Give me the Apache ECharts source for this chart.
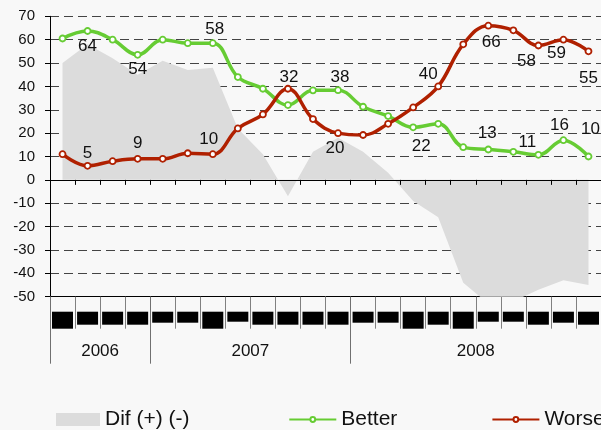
<!DOCTYPE html>
<html>
<head>
<meta charset="utf-8">
<script src="https://cdn.jsdelivr.net/npm/echarts@6/dist/echarts.min.js"></script>
<style>
html,body{margin:0;padding:0;background:#f8f8f8;}
#c{width:601px;height:430px;}
</style>
</head>
<body>
<div id="c"></div>
<script>
// ---------- data ----------
const categories = ['2006 P1','2006 P2','2006 P3','2006 P4',
  '2007 P1','2007 P2','2007 P3','2007 P4','2007 P5','2007 P6','2007 P7','2007 P8',
  '2008 P1','2008 P2','2008 P3','2008 P4','2008 P5','2008 P6','2008 P7','2008 P8','2008 P9','2008 P10'];
const years = ['2006','2007','2008'];
const yearCounts = [4, 8, 10];
const better = [60.5, 63.7, 60, 53.5, 60, 58.5, 58.5, 44, 39, 32, 38.3, 38.4, 31.3, 27.3, 22.5, 24, 14, 13, 12, 10.7, 17, 10];
const worse  = [11, 6, 8, 9, 9, 11.4, 11, 22, 28, 39, 26, 20, 19.2, 24, 31, 40, 58, 66, 64, 57.5, 60, 55];
const dif    = [50, 58, 52, 45, 51, 47, 48, 22, 11, -7, 12, 18, 12, 3, -9, -16, -44, -53, -52, -47, -43, -45];
const betterLabels = ['', '64', '', '54', '', '', '58', '', '', '32', '', '38', '', '', '22', '', '', '13', '', '11', '16', '10'];
const worseLabels  = ['', '5', '', '9', '', '', '10', '', '', '', '', '20', '', '', '', '40', '', '66', '', '58', '59', '55'];
const blockDepth = [17, 13, 13, 13, 11, 11, 17, 10, 13, 13, 13, 13, 11, 11, 17, 13, 17, 10, 10, 13, 11, 13];
const yTicks = {min: -50, max: 70, step: 10};

// ---------- styles / layout ----------
const GREEN = '#66CC33', RED = '#B02000', GRAY = '#dcdcdc';
const FONT = 'Liberation Sans, Arial, sans-serif';
const betterOffsets = {1:[0,15],3:[0,14],6:[2,-14],9:[1,-28],11:[2,-13],14:[8,19],17:[-1,-16],19:[-11,-13],20:[-4,-15],21:[2,-27]};
const worseOffsets  = {1:[0,-13],3:[0,-16],6:[-4,-15],11:[-3,15],15:[-10,-12],17:[3,17],19:[-12,16],20:[-7,14],21:[0,27]};

function withLabels(values, labels, offsets){
  return values.map((v,i)=>{
    if(!labels[i]) return v;
    const off = offsets[i] || [0,0];
    return {value:v, label:{show:true, position:'inside', offset:off, formatter:labels[i],
      fontSize:17, color:'#111', fontFamily:FONT, align:'center', verticalAlign:'middle'}};
  });
}

// year boundaries / centers from counts
const yearBounds = [0]; yearCounts.forEach(c=>yearBounds.push(yearBounds[yearBounds.length-1]+c));
const yearCenters = yearCounts.map((c,i)=>yearBounds[i]+c/2);

const chart = echarts.init(document.getElementById('c'), null, {renderer:'canvas'});
const gridLeft = 50, gridWidth = 552.5;
const legendText = {fontSize:21, color:'#111', fontFamily:FONT};
chart.setOption({
  backgroundColor:'#f8f8f8',
  animation:false,
  textStyle:{fontFamily:FONT},
  grid:[
    {left:gridLeft, top:16.3, width:gridWidth, height:280.4},
    {left:gridLeft, top:311.7, width:gridWidth, height:17}
  ],
  xAxis:[
    {type:'category', gridIndex:0, data:categories, boundaryGap:true, position:'bottom', z:3,
      axisLine:{onZero:true, lineStyle:{color:'#000', width:1}},
      axisTick:{show:true, interval:0, length:5, lineStyle:{color:'#000'}}, axisLabel:{show:false, interval:0}, splitLine:{show:false}},
    {type:'category', gridIndex:0, data:categories, boundaryGap:true, position:'bottom',
      axisLine:{onZero:false, lineStyle:{color:'#000', width:1}},
      axisTick:{show:true, interval:0, length:32, lineStyle:{color:'#808080'}}, axisLabel:{show:false, interval:0}, splitLine:{show:false}},
    {type:'value', gridIndex:0, min:0, max:categories.length, position:'bottom',
      axisLine:{show:false, onZero:false},
      axisTick:{show:true, length:67, customValues:yearBounds.slice(0, yearBounds.length-1), lineStyle:{color:'#707070'}},
      axisLabel:{show:true, customValues:yearCenters, margin:46, fontSize:17, color:'#111',
        formatter:function(v){ const k = yearCenters.indexOf(v); return k>=0 ? years[k] : ''; }},
      splitLine:{show:false}},
    {type:'category', gridIndex:1, data:categories, show:false, boundaryGap:true}
  ],
  yAxis:[
    {type:'value', gridIndex:0, min:yTicks.min, max:yTicks.max, interval:yTicks.step,
      axisLine:{show:true, lineStyle:{color:'#000'}},
      axisTick:{show:true, length:5, lineStyle:{color:'#000'}},
      axisLabel:{fontSize:15, color:'#111', margin:15},
      splitLine:{show:true, lineStyle:{color:'#444', type:[9,5], width:1}}},
    {type:'value', gridIndex:1, min:0, max:17, inverse:true, show:false}
  ],
  legend:[
    {data:[{name:'Dif (+) (-)', icon:'rect', itemStyle:{color:GRAY}}], left:56, top:409, padding:0, itemWidth:44, itemHeight:13,
      textStyle:legendText, selectedMode:false},
    {data:['Better'], left:288.3, top:409, padding:0, itemWidth:47, itemHeight:6,
      textStyle:legendText, selectedMode:false},
    {data:['Worse'], left:491.4, top:409, padding:0, itemWidth:47, itemHeight:6,
      textStyle:legendText, selectedMode:false}
  ],
  series:[
    {name:'Dif (+) (-)', type:'line', xAxisIndex:0, yAxisIndex:0, data:dif, symbol:'none', smooth:false, z:1,
      lineStyle:{width:0, color:GRAY}, itemStyle:{color:GRAY}, areaStyle:{color:GRAY, opacity:1, origin:0}},
    {name:'Better', type:'line', xAxisIndex:0, yAxisIndex:0, data:withLabels(better, betterLabels, betterOffsets),
      smooth:0.4, symbol:'circle', symbolSize:6, z:5,
      lineStyle:{width:3.5, color:GREEN}, itemStyle:{color:'#fff', borderColor:GREEN, borderWidth:1.8}},
    {name:'Worse', type:'line', xAxisIndex:0, yAxisIndex:0, data:withLabels(worse, worseLabels, worseOffsets),
      smooth:0.4, symbol:'circle', symbolSize:6, z:5,
      lineStyle:{width:3.5, color:RED}, itemStyle:{color:'#fff', borderColor:RED, borderWidth:1.8}},
    {name:'blocks', type:'bar', xAxisIndex:3, yAxisIndex:1, data:blockDepth, barWidth:21,
      itemStyle:{color:'#000'}, silent:true}
  ]
});
</script>
</body>
</html>
